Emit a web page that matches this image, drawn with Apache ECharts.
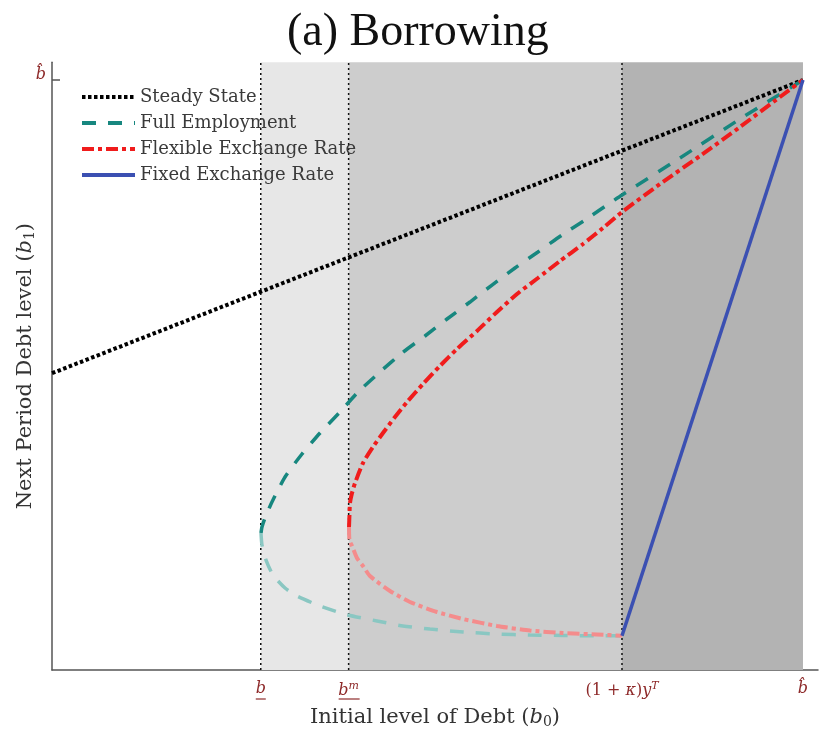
<!DOCTYPE html>
<html>
<head>
<meta charset="utf-8">
<script src="https://cdn.jsdelivr.net/npm/echarts@6/dist/echarts.min.js"></script>
<style>
  html, body { margin: 0; padding: 0; background: #fff; }
  #chart { width: 819px; height: 731px; }
</style>
</head>
<body>
<div id="chart"></div>
<script>
// Debt thresholds on the b0 axis (b-hat normalised to 1)
const bLower = 0.278;     // b (underlined)
const bM = 0.395;         // b^m (underlined)
const bKappa = 0.759;     // (1+kappa) y^T
const bHat = 1.0;         // b-hat

const xTickValues = [bLower, bM, bKappa, bHat];
const xTickLabels = ['{i|b}', '{i|b}{sup|m}', '{m|(1 + }{i|κ}{m|)}{i|y}{sup|T}', '{i|b̂}'];
const yTickValues = [bHat];
const yTickLabels = ['{i|b̂}'];

// Policy functions b1(b0)
const steadyState = [[0, 0.503], [1, 1]];

const fullEmpUpper = [
  [0.2783, 0.2322], [0.2796, 0.2424], [0.2836, 0.2576], [0.2929, 0.2847], [0.3103, 0.3271],
  [0.3329, 0.3661], [0.3569, 0.4017], [0.3835, 0.4373], [0.4075, 0.4712], [0.4367, 0.5051],
  [0.4660, 0.5373], [0.4967, 0.5661], [0.5260, 0.5949], [0.5566, 0.6237], [0.5859, 0.6525],
  [0.6165, 0.6814], [0.6471, 0.7085], [0.6791, 0.7373], [0.7097, 0.7627], [0.7430, 0.7915],
  [0.7590, 0.8051], [0.8362, 0.8678], [0.9161, 0.9339], [1.0000, 1.0000]
];
const fullEmpLower = [
  [0.2783, 0.2322], [0.2796, 0.2119], [0.2850, 0.1864], [0.2943, 0.1610], [0.3103, 0.1390],
  [0.3262, 0.1254], [0.3569, 0.1085], [0.3941, 0.0932], [0.4328, 0.0831], [0.4674, 0.0746],
  [0.5033, 0.0695], [0.5473, 0.0644], [0.5925, 0.0610], [0.6365, 0.0593], [0.6804, 0.0585],
  [0.7257, 0.0580], [0.7590, 0.0580]
];
const flexUpper = [
  [0.3955, 0.2424], [0.3961, 0.2627], [0.3968, 0.2831], [0.3995, 0.3000], [0.4035, 0.3169],
  [0.4141, 0.3508], [0.4274, 0.3780], [0.4407, 0.4017], [0.4567, 0.4288], [0.4727, 0.4542],
  [0.4940, 0.4847], [0.5166, 0.5153], [0.5393, 0.5441], [0.5659, 0.5746], [0.5925, 0.6068],
  [0.6192, 0.6373], [0.6471, 0.6644], [0.6764, 0.6932], [0.7071, 0.7220], [0.7337, 0.7492],
  [0.7590, 0.7763], [0.8096, 0.8237], [0.8628, 0.8712], [0.9161, 0.9203], [0.9694, 0.9712],
  [1.0000, 1.0000]
];
const flexLower = [
  [0.3955, 0.2424], [0.3961, 0.2203], [0.3995, 0.2102], [0.4061, 0.1898], [0.4141, 0.1763],
  [0.4234, 0.1593], [0.4501, 0.1339], [0.4767, 0.1153], [0.5126, 0.0983], [0.5473, 0.0864],
  [0.5925, 0.0746], [0.6365, 0.0669], [0.6804, 0.0627], [0.7257, 0.0602], [0.7590, 0.0580]
];
const fixedRate = [[0.7590, 0.0580], [1.0000, 1.0000]];

const serif = 'DejaVu Serif';
const labelRed = '#8e2a2a';
const teal = '#17877f', tealLight = '#8ac7c2';
const red = '#f01c1c', redLight = '#f48c8c';
const blue = '#3b50b2';
const yTop = 1.03;

const tickRich = {
  i: { fontFamily: serif, fontStyle: 'italic', fontSize: 16, color: labelRed },
  m: { fontFamily: serif, fontSize: 16, color: labelRed },
  sup: { fontFamily: serif, fontStyle: 'italic', fontSize: 11, color: labelRed, verticalAlign: 'top', padding: [0, 0, 9, 0] }
};
const nameRich = {
  n: { fontFamily: serif, fontSize: 21, color: '#333' },
  i: { fontFamily: serif, fontStyle: 'italic', fontSize: 21, color: '#333' },
  s: { fontFamily: serif, fontSize: 14, color: '#333', padding: [9, 0, 0, 0] }
};

const dotted = [3.5, 2.5];
const dashed = [14, 12];
const dashDot = [12, 4, 4, 4];

// vertical dotted guides at each threshold
function guide(x) {
  return {
    name: 'guide', type: 'line', data: [[x, 0], [x, yTop]], symbol: 'none', z: 2, silent: true,
    lineStyle: { color: '#111', width: 1.5, type: [2, 3] }
  };
}

const chart = echarts.init(document.getElementById('chart'), null, { renderer: 'canvas' });

chart.setOption({
  animation: false,
  backgroundColor: '#ffffff',
  title: {
    text: '(a) Borrowing',
    left: 282,
    top: 5,
    textStyle: { fontFamily: 'Liberation Serif', fontSize: 46, fontWeight: 'normal', color: '#111' }
  },
  legend: {
    orient: 'vertical',
    left: 75,
    top: 83,
    itemWidth: 53,
    itemHeight: 14,
    itemGap: 8,
    itemStyle: { opacity: 0 },
    data: [
      { name: 'Steady State', lineStyle: { width: 4, type: dotted } },
      { name: 'Full Employment', lineStyle: { width: 4, type: dashed } },
      { name: 'Flexible Exchange Rate', lineStyle: { width: 4, type: dashDot } },
      { name: 'Fixed Exchange Rate', lineStyle: { width: 4 } }
    ],
    textStyle: { fontFamily: serif, fontSize: 18, color: '#3a3a3a' }
  },
  grid: { left: 52, right: 1, top: 62.3, bottom: 61, outerBoundsMode: 'none', containLabel: false },
  xAxis: {
    type: 'value',
    min: 0,
    max: 1.02,
    name: '{n|Initial level of Debt (}{i|b}{s|0}{n|)}',
    nameLocation: 'middle',
    nameGap: 36,
    nameTextStyle: { rich: nameRich },
    axisLine: { show: true, lineStyle: { color: '#555', width: 1.5 } },
    axisTick: { show: false },
    splitLine: { show: false },
    axisLabel: {
      customValues: xTickValues,
      margin: 11,
      formatter: function (v) {
        const k = xTickValues.findIndex(t => Math.abs(t - v) < 1e-6);
        return k >= 0 ? xTickLabels[k] : '';
      },
      rich: tickRich
    }
  },
  yAxis: {
    type: 'value',
    min: 0,
    max: yTop,
    name: '{n|Next Period Debt level (}{i|b}{s|1}{n|)}',
    nameLocation: 'middle',
    nameGap: 15,
    nameMoveOverlap: false,
    nameRotate: 90,
    nameTextStyle: { rich: nameRich },
    axisLine: { show: true, lineStyle: { color: '#555', width: 1.5 } },
    axisTick: { show: true, inside: true, length: 8, customValues: yTickValues, lineStyle: { color: '#555', width: 1.5 } },
    splitLine: { show: false },
    axisLabel: {
      customValues: yTickValues,
      margin: 6,
      padding: [0, 0, 10, 0],
      formatter: function (v) {
        const k = yTickValues.findIndex(t => Math.abs(t - v) < 1e-6);
        return k >= 0 ? yTickLabels[k] : '';
      },
      rich: tickRich
    }
  },
  series: [
    {
      // regime shading
      name: 'regions',
      type: 'line',
      data: [],
      z: 1,
      markArea: {
        silent: true,
        data: [
          [{ xAxis: bLower, itemStyle: { color: '#e7e7e7' } }, { xAxis: bM }],
          [{ xAxis: bM, itemStyle: { color: '#cdcdcd' } }, { xAxis: bKappa }],
          [{ xAxis: bKappa, itemStyle: { color: '#b3b3b3' } }, { xAxis: bHat }]
        ]
      }
    },
    guide(bLower),
    guide(bM),
    guide(bKappa),
    {
      name: 'Steady State', type: 'line', data: steadyState, symbol: 'none', z: 3,
      itemStyle: { color: '#000' },
      lineStyle: { color: '#000', width: 4, type: dotted }
    },
    {
      name: 'Full Employment', type: 'line', data: fullEmpUpper, symbol: 'none', smooth: 0.2, z: 3,
      itemStyle: { color: teal },
      lineStyle: { color: teal, width: 3.5, type: dashed }
    },
    {
      name: 'Full Employment (lower)', type: 'line', data: fullEmpLower, symbol: 'none', smooth: 0.2, z: 3,
      lineStyle: { color: tealLight, width: 3.5, type: dashed }
    },
    {
      name: 'Flexible Exchange Rate', type: 'line', data: flexUpper, symbol: 'none', smooth: 0.2, z: 4,
      itemStyle: { color: red },
      lineStyle: { color: red, width: 4, type: dashDot }
    },
    {
      name: 'Flexible Exchange Rate (lower)', type: 'line', data: flexLower, symbol: 'none', smooth: 0.2, z: 4,
      lineStyle: { color: redLight, width: 4, type: dashDot }
    },
    {
      name: 'Fixed Exchange Rate', type: 'line', data: fixedRate, symbol: 'none', z: 5,
      itemStyle: { color: blue },
      lineStyle: { color: blue, width: 3.5 }
    }
  ]
});

// underline the lower-bound labels (b and b^m), placed from the axis scale
const axisY = chart.convertToPixel({ gridIndex: 0 }, [0, 0])[1];
const xb = chart.convertToPixel({ gridIndex: 0 }, [bLower, 0])[0];
const xm = chart.convertToPixel({ gridIndex: 0 }, [bM, 0])[0];
chart.setOption({
  graphic: [
    { type: 'line', silent: true, shape: { x1: xb - 5, y1: axisY + 29, x2: xb + 5, y2: axisY + 29 }, style: { stroke: labelRed, lineWidth: 1.2 } },
    { type: 'line', silent: true, shape: { x1: xm - 10, y1: axisY + 29, x2: xm + 11, y2: axisY + 29 }, style: { stroke: labelRed, lineWidth: 1.2 } }
  ]
});
</script>
</body>
</html>
